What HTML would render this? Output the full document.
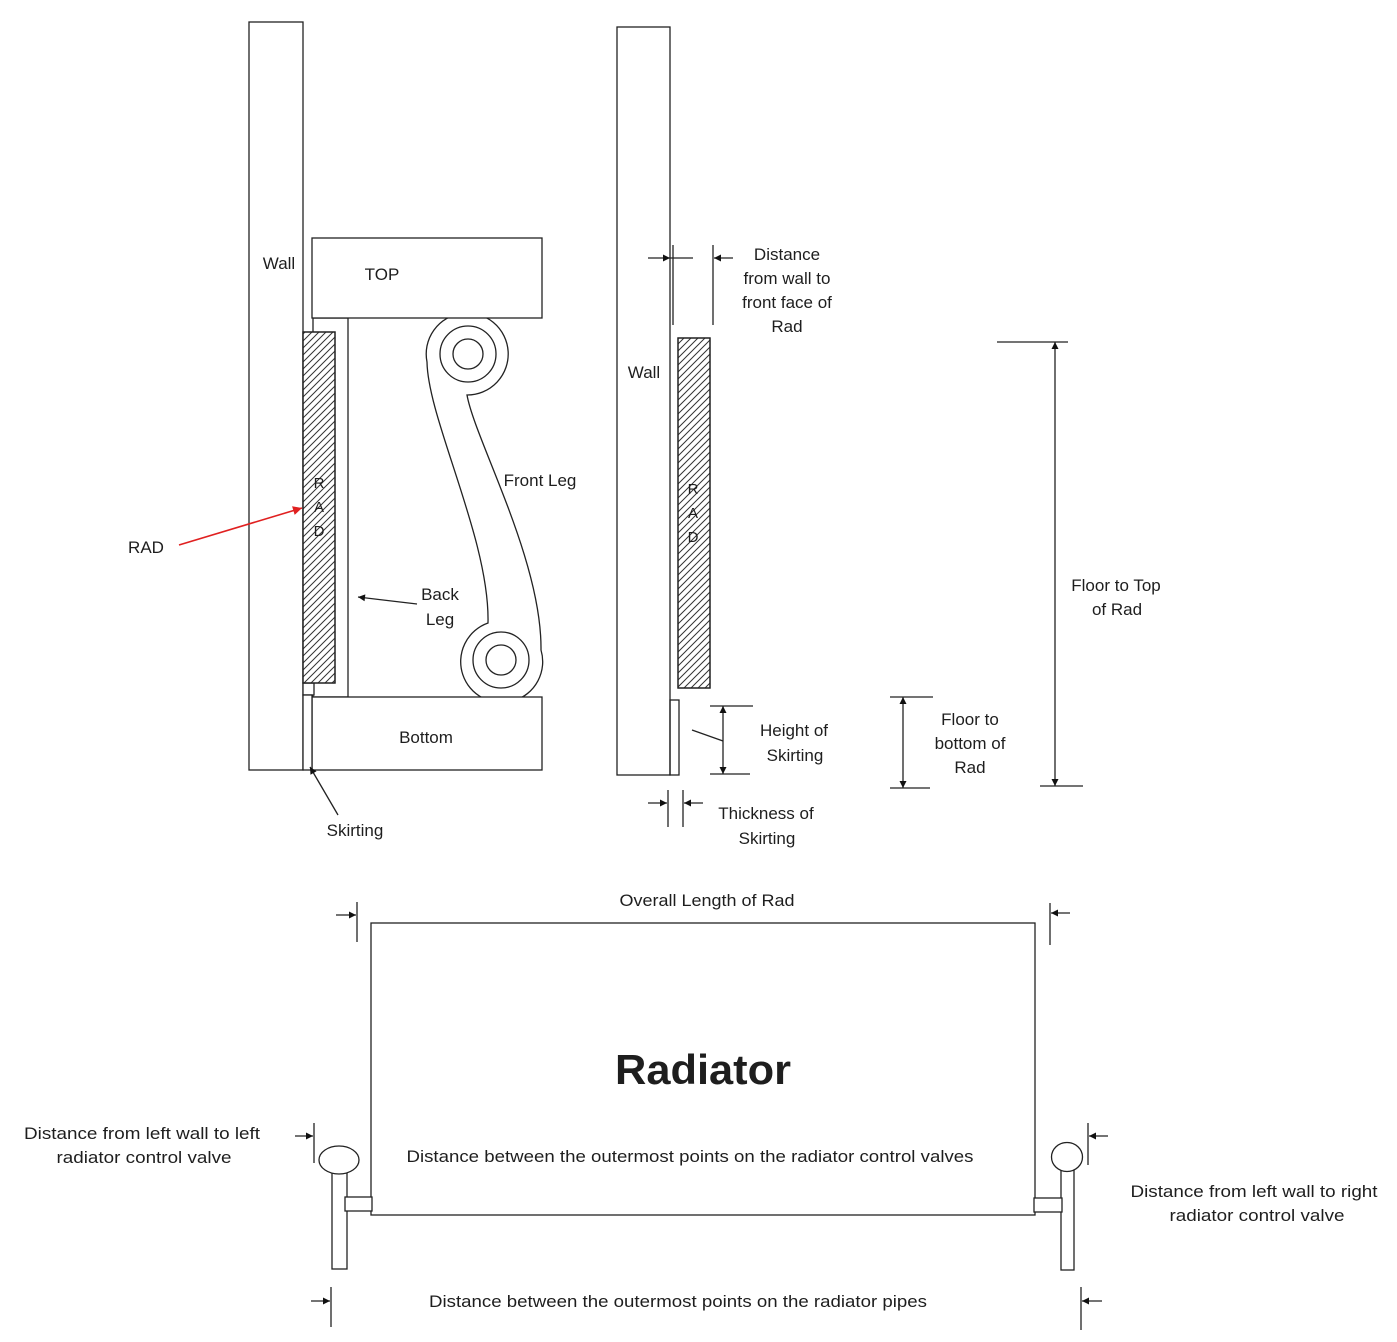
<!DOCTYPE html>
<html><head><meta charset="utf-8"><style>
html,body{margin:0;padding:0;background:#fff;}
svg{display:block;}
text{font-family:"Liberation Sans",sans-serif;fill:#1e1e1e;}
</style></head><body>
<svg width="1397" height="1342" viewBox="0 0 1397 1342" xmlns="http://www.w3.org/2000/svg">
<defs>
<pattern id="h" patternUnits="userSpaceOnUse" width="7" height="7">
<path d="M-1,8 L8,-1 M-1,1 L1,-1 M6,8 L8,6" stroke="#333" stroke-width="1"/>
</pattern>
<marker id="a" viewBox="0 0 10 10" refX="10" refY="5" markerWidth="11" markerHeight="7" orient="auto-start-reverse" markerUnits="userSpaceOnUse">
<path d="M0,0 L10,5 L0,10 z" fill="#111"/>
</marker>
<marker id="r" viewBox="0 0 10 10" refX="10" refY="5" markerWidth="12" markerHeight="9" orient="auto" markerUnits="userSpaceOnUse">
<path d="M0,0 L10,5 L0,10 z" fill="#e02020"/>
</marker>
</defs>
<g fill="none" stroke="#222" stroke-width="1.3">
<!-- LEFT DIAGRAM -->
<rect x="249" y="22" width="54" height="748" fill="#fff"/>
<!-- back leg -->
<rect x="313" y="318" width="35" height="379" fill="#fff"/>
<!-- front leg -->
<path d="M467,395 A41,41 0 1 0 427,362 C428,420 490,540 488,623 A41,41 0 1 0 541,650 C542,560 475,440 467,395 Z" fill="#fff"/>
<circle cx="468" cy="354" r="28"/>
<circle cx="468" cy="354" r="15"/>
<circle cx="501" cy="660" r="28"/>
<circle cx="501" cy="660" r="15"/>
<rect x="312" y="238" width="230" height="80" fill="#fff"/>
<rect x="312" y="697" width="230" height="73" fill="#fff"/>
<rect x="303" y="683" width="11" height="12" fill="#fff"/>
<rect x="303" y="695" width="9" height="75" fill="#fff"/>
<rect x="303" y="332" width="32" height="351" fill="#fff"/>
<rect x="303" y="332" width="32" height="351" fill="url(#h)"/>
<line x1="338" y1="815" x2="310" y2="767" marker-end="url(#a)"/>
<line x1="417" y1="604" x2="358" y2="597" marker-end="url(#a)"/>
<line x1="179" y1="545" x2="302" y2="508" stroke="#e02020" stroke-width="1.6" marker-end="url(#r)"/>

<!-- MIDDLE DIAGRAM -->
<rect x="617" y="27" width="53" height="748"/>
<rect x="670" y="700" width="9" height="75"/>
<rect x="678" y="338" width="32" height="350" fill="#fff"/>
<rect x="678" y="338" width="32" height="350" fill="url(#h)"/>
<line x1="673" y1="245" x2="673" y2="325"/>
<line x1="713" y1="245" x2="713" y2="325"/>
<line x1="648" y1="258" x2="670" y2="258" marker-end="url(#a)"/>
<line x1="670" y1="258" x2="693" y2="258"/>
<line x1="733" y1="258" x2="714" y2="258" marker-end="url(#a)"/>
<!-- height of skirting -->
<line x1="710" y1="706" x2="753" y2="706"/>
<line x1="710" y1="774" x2="750" y2="774"/>
<line x1="723" y1="706" x2="723" y2="774" marker-start="url(#a)" marker-end="url(#a)"/>
<line x1="692" y1="730" x2="723" y2="741"/>
<!-- thickness -->
<line x1="668" y1="790" x2="668" y2="827"/>
<line x1="683" y1="790" x2="683" y2="827"/>
<line x1="648" y1="803" x2="667" y2="803" marker-end="url(#a)"/>
<line x1="703" y1="803" x2="684" y2="803" marker-end="url(#a)"/>
<!-- floor to top -->
<line x1="997" y1="342" x2="1068" y2="342"/>
<line x1="1040" y1="786" x2="1083" y2="786"/>
<line x1="1055" y1="342" x2="1055" y2="786" marker-start="url(#a)" marker-end="url(#a)"/>
<!-- floor to bottom -->
<line x1="890" y1="697" x2="933" y2="697"/>
<line x1="890" y1="788" x2="930" y2="788"/>
<line x1="903" y1="697" x2="903" y2="788" marker-start="url(#a)" marker-end="url(#a)"/>

<!-- BOTTOM DIAGRAM -->
<rect x="371" y="923" width="664" height="292"/>
<line x1="357" y1="902" x2="357" y2="942"/>
<line x1="336" y1="915" x2="356" y2="915" marker-end="url(#a)"/>
<line x1="1050" y1="903" x2="1050" y2="945"/>
<line x1="1070" y1="913" x2="1051" y2="913" marker-end="url(#a)"/>
<!-- left valve -->
<line x1="314" y1="1123" x2="314" y2="1163"/>
<line x1="295" y1="1136" x2="313" y2="1136" marker-end="url(#a)"/>
<rect x="332" y="1173" width="15" height="96" fill="#fff"/>
<ellipse cx="339" cy="1160" rx="20" ry="14" fill="#fff"/>
<rect x="345" y="1197" width="27" height="14" fill="#fff"/>
<line x1="331" y1="1287" x2="331" y2="1327"/>
<line x1="311" y1="1301" x2="330" y2="1301" marker-end="url(#a)"/>
<!-- right valve -->
<rect x="1061" y="1170" width="13" height="100" fill="#fff"/>
<ellipse cx="1067" cy="1157" rx="15.5" ry="14.5" fill="#fff"/>
<rect x="1034" y="1198" width="28" height="14" fill="#fff"/>
<line x1="1088" y1="1123" x2="1088" y2="1165"/>
<line x1="1108" y1="1136" x2="1089" y2="1136" marker-end="url(#a)"/>
<line x1="1081" y1="1287" x2="1081" y2="1330"/>
<line x1="1102" y1="1301" x2="1082" y2="1301" marker-end="url(#a)"/>
</g>

<g font-size="17" text-anchor="middle">
<text x="279" y="269">Wall</text>
<text x="382" y="280">TOP</text>
<text x="426" y="743">Bottom</text>
<text x="355" y="836">Skirting</text>
<text x="146" y="553">RAD</text>
<text x="540" y="486">Front Leg</text>
<text x="440" y="600">Back</text>
<text x="440" y="625">Leg</text>
<g font-size="15" fill="#444">
<text x="319" y="488">R</text>
<text x="319" y="512">A</text>
<text x="319" y="536">D</text>
<text x="693" y="494">R</text>
<text x="693" y="518">A</text>
<text x="693" y="542">D</text>
</g>
<text x="644" y="378">Wall</text>
<text x="787" y="260">Distance</text>
<text x="787" y="284">from wall to</text>
<text x="787" y="308">front face of</text>
<text x="787" y="332">Rad</text>
<text x="794" y="736">Height  of</text>
<text x="795" y="761">Skirting</text>
<text x="766" y="819">Thickness  of</text>
<text x="767" y="844">Skirting</text>
<text x="1116" y="591">Floor to Top</text>
<text x="1117" y="615">of Rad</text>
<text x="970" y="725">Floor to</text>
<text x="970" y="749">bottom of</text>
<text x="970" y="773">Rad</text>
<text x="707" y="906" textLength="175" lengthAdjust="spacingAndGlyphs">Overall Length of Rad</text>
<text x="703" y="1084" font-size="42" font-weight="bold" textLength="176" lengthAdjust="spacingAndGlyphs">Radiator</text>
<text x="690" y="1162" textLength="567" lengthAdjust="spacingAndGlyphs">Distance between the outermost points on the radiator control valves</text>
<text x="678" y="1307" textLength="498" lengthAdjust="spacingAndGlyphs">Distance between the outermost points on the radiator pipes</text>
<text x="142" y="1139" textLength="236" lengthAdjust="spacingAndGlyphs">Distance from left wall to left</text>
<text x="144" y="1163" textLength="175" lengthAdjust="spacingAndGlyphs">radiator control valve</text>
<text x="1254" y="1197" textLength="247" lengthAdjust="spacingAndGlyphs">Distance from left wall to right</text>
<text x="1257" y="1221" textLength="175" lengthAdjust="spacingAndGlyphs">radiator control valve</text>
</g>
</svg>
</body></html>
